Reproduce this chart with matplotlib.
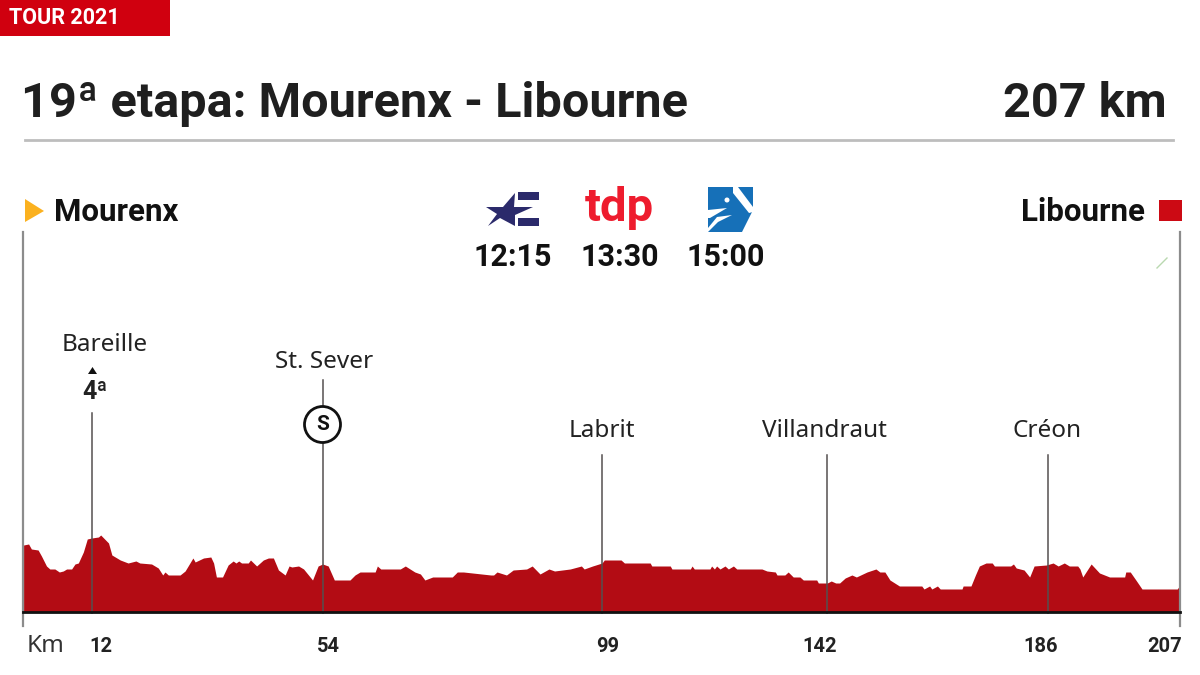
import matplotlib
matplotlib.use('Agg')
import matplotlib.pyplot as plt
from matplotlib.patches import Polygon, Rectangle, Circle

# km along the stage / height of the profile above the base line
profile_km = [0.1, 1.0, 1.5, 2.7, 3.3, 4.2, 4.8, 5.7, 6.5, 7.2, 7.8, 8.7, 9.3, 9.9, 10.8, 11.5,
              12.3, 13.5, 13.9, 15.3, 15.9, 17.4, 18.8, 20.2, 20.9, 23.0, 24.2, 25.0, 25.4, 26.0,
              28.1, 29.0, 30.4, 30.8, 32.3, 33.6, 34.1, 34.6, 35.7, 36.7, 37.6, 38.1, 38.6, 39.1,
              40.3, 40.7, 41.8, 43.0, 43.9, 44.8, 45.7, 46.9, 47.6, 48.1, 49.3, 50.2, 51.8, 52.8,
              53.6, 54.6, 55.7, 58.5, 59.4, 60.3, 63.0, 63.4, 64.0, 67.5, 68.4, 70.1, 71.1, 71.9,
              73.3, 76.8, 77.7, 78.8, 83.7, 84.2, 84.8, 86.5, 87.7, 90.1, 91.1, 92.5, 94.1, 95.1,
              97.9, 99.9, 100.4, 101.9, 103.6, 104.0, 107.0, 107.6, 112.2, 112.5, 115.8, 116.1,
              119.4, 119.7, 120.1, 122.9, 123.2, 123.7, 124.1, 124.7, 125.6, 126.2, 127.1, 127.7,
              132.2, 133.1, 134.6, 134.9, 136.3, 136.9, 137.8, 139.0, 139.6, 142.0, 142.3, 143.9,
              144.6, 145.4, 146.1, 147.1, 148.3, 149.1, 151.0, 152.6, 153.3, 154.2, 155.1, 156.8,
              160.8, 161.2, 162.2, 162.6, 163.6, 164.1, 168.0, 168.2, 169.6, 170.4, 171.1, 172.3,
              173.4, 173.8, 176.7, 177.2, 177.7, 179.1, 180.1, 180.9, 183.1, 184.3, 185.2, 186.3,
              187.2, 188.7, 189.1, 189.6, 191.1, 192.6, 194.4, 197.1, 197.3, 198.1, 199.1, 200.2,
              206.5, 206.9]
profile_elev = [67, 68, 63, 62, 56, 46, 43, 43, 40, 41, 43, 43, 48, 49, 60, 73,
                74, 75, 77, 69, 57, 52, 49, 51, 49, 48, 44, 37, 40, 37,
                37, 41, 54, 50, 54, 55, 49, 35, 35, 47, 51, 49, 51, 49,
                49, 52, 46, 52, 54, 54, 42, 37, 46, 45, 46, 43, 32, 46,
                48, 46, 32, 32, 37, 40, 40, 46, 43, 43, 46, 40, 38, 32,
                35, 35, 40, 40, 37, 37, 40, 37, 42, 43, 46, 38, 43, 41,
                43, 46, 43, 46, 49, 52, 52, 49, 49, 46, 46, 43, 43, 46,
                43, 43, 46, 43, 46, 43, 46, 43, 46, 43,
                43, 41, 40, 37, 37, 40, 35, 35, 32, 32, 29, 29,
                31, 29, 29, 34, 37, 35, 40, 43, 40, 40, 32, 26,
                26, 23, 26, 23, 26, 23, 23, 26, 26, 37, 46, 49,
                49, 46, 46, 48, 44, 42, 35, 46, 47, 49, 46, 49,
                46, 46, 43, 35, 48, 39, 35, 35, 40, 40, 32, 23,
                23, 26]

# places on the profile
place_names = ['Bareille', 'St. Sever', 'Labrit', 'Villandraut', 'Créon']
place_km = [12.3, 53.6, 103.6, 143.9, 183.4]
place_top = [199, 232, 157, 157, 157]
km_labels = ['12', '54', '99', '142', '186', '207']

# broadcasters
tv_times = ['12:15', '13:30', '15:00']

RED = '#b30c14'
DARK = '#1f1f1f'
GREY = '#8c8c8c'
BOLD = ['Roboto', 'DejaVu Sans']

fig = plt.figure(figsize=(12, 6.75), dpi=100)
plt.rcParams['font.family'] = ['Noto Sans', 'DejaVu Sans']

# overlay in picture pixels for the header, labels and logos
bg = fig.add_axes([0, 0, 1, 1])
bg.set_xlim(0, 1200)
bg.set_ylim(675, 0)
bg.axis('off')
bg.set_zorder(5)
bg.patch.set_alpha(0)

# profile axes: base line at y=612, km 0 at x=23, km 207 at x=1180
ax = fig.add_axes([23 / 1200, (675 - 612) / 675, (1180 - 23) / 1200, 380 / 675])
ax.set_xlim(0, 207)
ax.set_ylim(0, 380)
ax.axis('off')

ax.fill_between(profile_km, profile_elev, 0, color=RED, lw=0, zorder=2)
ax.plot([0, 207], [0, 0], color='#111111', lw=2, zorder=4, clip_on=False)

# start and finish lines go down past the base line
ax.plot([0, 0], [-14, 380], color=GREY, lw=1.6, zorder=3, clip_on=False)
ax.plot([207, 207], [-14, 380], color=GREY, lw=1.6, zorder=3, clip_on=False)

# place lines
for km, top in zip(place_km, place_top):
    ax.plot([km, km], [top, -1], color='#55504f', lw=1.1, zorder=3, clip_on=False)

# header
bg.add_patch(Rectangle((0, 0), 170, 36, color='#d0000f', lw=0))
bg.text(9, 18, 'TOUR 2021', color='white', fontsize=15.5, fontweight='bold', va='center', ha='left', family=BOLD)
bg.text(21, 104, '19ª etapa: Mourenx - Libourne', color=DARK, fontsize=35, fontweight='bold',
        va='center', ha='left', family=BOLD)
bg.text(1167, 104, '207 km', color=DARK, fontsize=35, fontweight='bold', va='center', ha='right', family=BOLD)
bg.plot([25, 1173], [139.5, 139.5], color='#bdbdbd', lw=2)

# start and finish
bg.add_patch(Polygon([(25, 199), (25, 222), (44, 211)], color='#fbb11f', lw=0))
bg.text(54, 212, 'Mourenx', color='#111111', fontsize=22.5, fontweight='bold', va='center', ha='left', family=BOLD)
bg.text(1145, 212, 'Libourne', color='#111111', fontsize=22.5, fontweight='bold', va='center', ha='right', family=BOLD)
bg.add_patch(Rectangle((1159, 200), 23, 21, color='#cc0a14', lw=0))
bg.plot([1157, 1167], [268, 258], color='#b9d8b0', lw=1)

# place names
name_x = [105, 324, 602, 824, 1047]
name_y = [345, 362, 431, 431, 431]
for name, x, y in zip(place_names, name_x, name_y):
    bg.text(x, y, name, color='#222222', fontsize=17.5, ha='center', va='center')

# climb and sprint marks
bg.add_patch(Polygon([(88, 374), (97, 374), (92.5, 367)], color='#111111', lw=0))
bg.text(95, 392, '4ª', color='#222222', fontsize=18, fontweight='bold', ha='center', va='center', family=BOLD)
bg.add_patch(Circle((322.5, 424.5), 18, fc='white', ec='#111111', lw=2, zorder=5))
bg.text(322.5, 424.5, 'S', color='#111111', fontsize=15, fontweight='bold', ha='center', va='center', zorder=6,
        family=BOLD)

# km labels
bg.text(46, 646, 'Km', color='#333333', fontsize=17.5, ha='center', va='center')
label_x = [101, 328, 608, 820, 1041, 1165]
for lab, x in zip(km_labels, label_x):
    bg.text(x, 646, lab, color='#222222', fontsize=14.5, fontweight='bold', ha='center', va='center', family=BOLD)

# broadcaster logos
navy = '#2b2a6b'
bg.add_patch(Polygon([(486, 207), (503, 207), (515, 193), (514, 207), (533, 207), (515, 215),
                      (515, 226), (500, 218), (488, 226), (497, 214)], color=navy, lw=0))
bg.add_patch(Rectangle((518, 192), 21, 8, color=navy, lw=0))
bg.add_patch(Rectangle((518, 218), 21, 8, color=navy, lw=0))
bg.text(619, 208, 'tdp', color='#ee1c2e', fontsize=34, fontweight='bold', ha='center', va='center', family=BOLD)
blue = '#1670b8'
bg.add_patch(Polygon([(708, 187), (753, 187), (753, 210), (742, 232), (708, 232)], color=blue, lw=0))
bg.add_patch(Polygon([(733, 187), (738, 187), (753, 207), (753, 212), (749, 213), (733, 193)], color='white', lw=0))
bg.add_patch(Polygon([(708, 210), (727, 208), (710, 218), (708, 218)], color='white', lw=0))
bg.add_patch(Polygon([(708, 228), (717, 217), (732, 215), (718, 222), (708, 232)], color='white', lw=0))
bg.add_patch(Circle((727, 200), 2.5, color='white', lw=0))
for t, x in zip(tv_times, [513, 620, 726]):
    bg.text(x, 257, t, color='#111111', fontsize=22, fontweight='bold', ha='center', va='center', family=BOLD)

fig.savefig('out.png', dpi=100)
